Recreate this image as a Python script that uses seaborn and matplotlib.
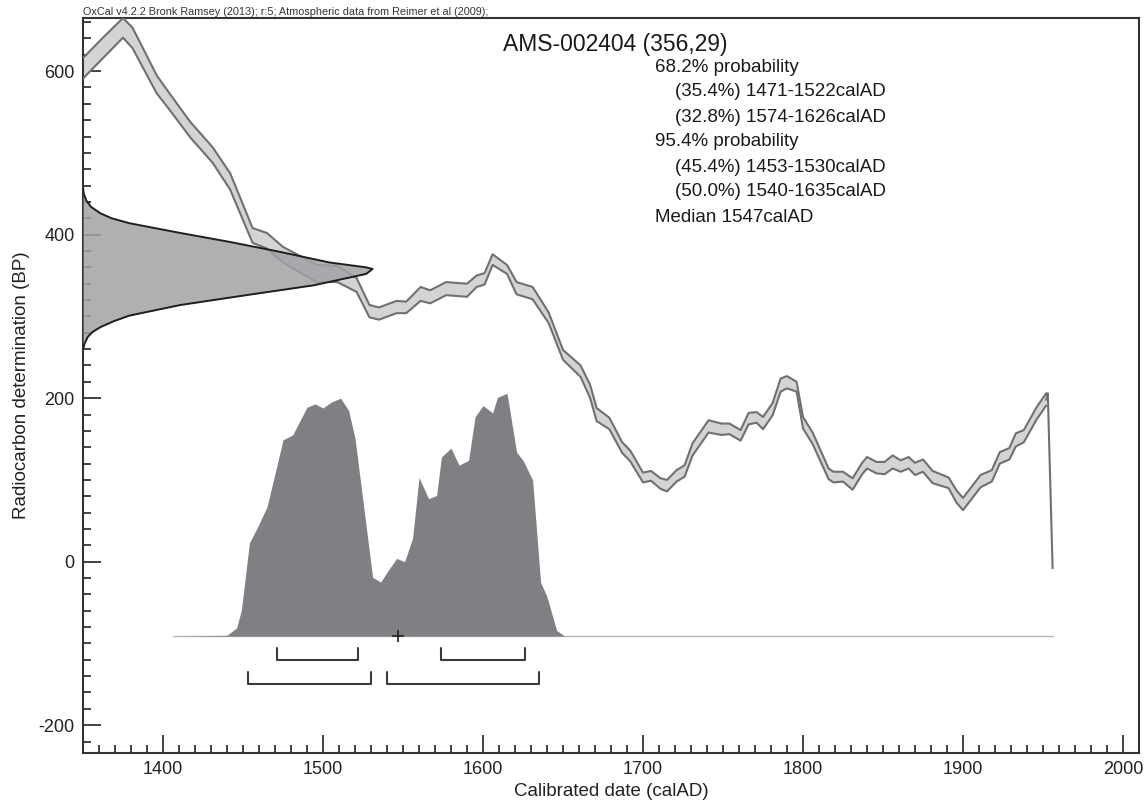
import matplotlib
matplotlib.use("Agg")
import matplotlib.pyplot as plt
import seaborn as sns

# calibration curve (IntCal09), upper / lower edge of the 1-sigma band
curve_year = [1350, 1362, 1375, 1381, 1396, 1404, 1417, 1431, 1442, 1456,
              1465, 1475, 1496, 1509, 1521, 1529, 1535, 1546, 1552, 1561,
              1567, 1577, 1590, 1596, 1601, 1606, 1615, 1621, 1631, 1641,
              1650, 1661, 1667, 1671, 1679, 1687, 1692, 1700, 1705, 1711,
              1715, 1721, 1726, 1731, 1741, 1749, 1754, 1761, 1766, 1771,
              1775, 1781, 1786, 1790, 1796, 1800, 1806, 1816, 1819, 1825,
              1831, 1837, 1840, 1846, 1851, 1856, 1861, 1866, 1870, 1875,
              1881, 1891, 1896, 1900, 1911, 1918, 1923, 1929, 1933, 1938,
              1946, 1952]
curve_hi = [616, 640, 665, 653, 595, 573, 538, 507, 475, 408,
            402, 385, 363, 362, 347, 314, 311, 319, 318, 336,
            332, 342, 340, 350, 353, 376, 363, 342, 336, 305,
            259, 240, 216, 188, 176, 146, 136, 109, 111, 102,
            100, 112, 118, 145, 173, 169, 169, 161, 182, 183,
            177, 194, 224, 227, 220, 177, 158, 114, 110, 110,
            102, 121, 128, 122, 122, 130, 124, 128, 121, 125,
            111, 103, 87, 78, 106, 112, 134, 139, 157, 161,
            189, 206]
curve_lo = [591, 615, 641, 628, 573, 553, 519, 488, 455, 390,
            383, 366, 342, 342, 330, 299, 296, 304, 304, 319,
            316, 326, 324, 336, 339, 363, 352, 327, 321, 292,
            247, 226, 200, 172, 162, 133, 123, 97, 99, 89,
            86, 98, 104, 130, 158, 155, 156, 148, 168, 170,
            162, 179, 208, 212, 208, 163, 144, 101, 97, 98,
            88, 107, 114, 108, 107, 114, 110, 114, 106, 110,
            96, 90, 72, 63, 91, 98, 120, 125, 141, 146,
            174, 191]
tail_year = [1952, 1953, 1956]
tail_bp = [198, 206, -8]

# radiocarbon date 356 +/- 29 drawn against the y axis
gauss_bp = [457, 450, 442, 434, 426, 420, 414, 402, 391, 379, 366, 360,
            358, 352, 338, 326, 314, 301, 294, 287, 281, 275, 267, 259]
gauss_x = [1350, 1350.5, 1352, 1355, 1361, 1368, 1379, 1411, 1442, 1473, 1504, 1527,
           1531, 1527, 1494, 1452, 1411, 1379, 1369, 1361, 1356, 1353, 1351, 1350]

# calibrated probability distribution
post_year = [1406, 1440, 1446, 1449, 1454, 1459, 1465, 1471, 1475, 1481,
             1490, 1495, 1500, 1505, 1511, 1516, 1520, 1531, 1536, 1541,
             1546, 1551, 1556, 1560, 1566, 1571, 1574, 1580, 1585, 1591,
             1595, 1600, 1606, 1609, 1615, 1621, 1625, 1631, 1636, 1640,
             1646, 1651]
post_top = [-91, -90, -81, -59, 23, 42, 67, 116, 149, 155,
            189, 193, 188, 195, 200, 185, 151, -19, -25, -10,
            4, 0, 29, 103, 77, 81, 128, 139, 118, 124,
            177, 191, 182, 201, 206, 134, 124, 100, -25, -43,
            -84, -91]
baseline = -91
base_span = [1406, 1956]

range68 = [(1471, 1522), (1574, 1626)]
range95 = [(1453, 1530), (1540, 1635)]
median = 1547

info_title = "AMS-002404 (356,29)"
info_lines = [("68.2% probability", 0), ("(35.4%) 1471-1522calAD", 1),
              ("(32.8%) 1574-1626calAD", 1), ("95.4% probability", 0),
              ("(45.4%) 1453-1530calAD", 1), ("(50.0%) 1540-1635calAD", 1),
              ("Median 1547calAD", 0)]

sns.set_theme(style="white")
plt.rcParams['font.family'] = ['Liberation Sans', 'DejaVu Sans']
plt.rcParams['axes.unicode_minus'] = False

W, H = 1148, 800
fig = plt.figure(figsize=(W / 100, H / 100), dpi=100)
ax = fig.add_axes([83 / W, 47 / H, (1139 - 83) / W, (753 - 18) / H])

# curve band
ax.fill_between(curve_year, curve_lo, curve_hi, color='#d4d4d6', lw=0, zorder=2)
sns.lineplot(x=curve_year, y=curve_hi, color='#707070', lw=1.5, ax=ax, zorder=3)
sns.lineplot(x=curve_year, y=curve_lo, color='#707070', lw=1.5, ax=ax, zorder=3)
ax.plot(tail_year, tail_bp, color='#707070', lw=1.5, zorder=3)

# measurement distribution
ax.fill_betweenx(gauss_bp, 1350, gauss_x, color='#a2a2a6', alpha=0.85, lw=0, zorder=4)
ax.plot(gauss_x, gauss_bp, color='#1e1e1e', lw=1.4, zorder=5)

# calibrated distribution
ax.plot(base_span, [baseline, baseline], color='#b8b8b8', lw=1, zorder=2)
ax.fill_between(post_year, baseline, post_top, color='#7f8084', lw=0, zorder=3)
ax.plot(median, baseline, marker='+', color='#222222', ms=8, mew=1.2, zorder=6)

# range brackets
for lo, hi in range68:
    ax.plot([lo, lo, hi, hi], [-106, -120, -120, -106], color='#3a3a3a', lw=1.5)
for lo, hi in range95:
    ax.plot([lo, lo, hi, hi], [-135, -149, -149, -135], color='#3a3a3a', lw=1.5)

ax.set_xlim(1350, 2010)
ax.set_ylim(-234, 665)
ax.set_xticks(range(1400, 2001, 100))
ax.set_xticks(range(1360, 2010, 10), minor=True)
ax.set_yticks([-200, 0, 200, 400, 600])
ax.set_yticks(range(-220, 661, 20), minor=True)
ax.tick_params(which='both', direction='in', color='#333333', width=1.3,
               bottom=True, left=True, top=False, right=False)
ax.tick_params(which='major', length=13, labelsize=13, labelcolor='#222222', pad=6)
ax.tick_params(which='minor', length=6)
for sp in ax.spines.values():
    sp.set_visible(True)
    sp.set_color('#333333')
    sp.set_linewidth(1.5)

ax.set_xlabel("Calibrated date (calAD)", fontsize=13.5, color='#222222', labelpad=3)
ax.set_ylabel("Radiocarbon determination (BP)", fontsize=13.5, color='#222222', labelpad=6)

fig.text(83 / W, 1 - 17 / H,
         "OxCal v4.2.2 Bronk Ramsey (2013); r:5; Atmospheric data from Reimer et al (2009);",
         fontsize=7.8, color='#333333', va='bottom', ha='left')
fig.text(615 / W, 1 - 44 / H, info_title, fontsize=16.5, color='#1a1a1a',
         ha='center', va='center')
for i, (txt, indent) in enumerate(info_lines):
    fig.text((655 + 20 * indent) / W, 1 - (67 + 25 * i) / H, txt, fontsize=13.5,
             color='#1a1a1a', ha='left', va='center')

fig.savefig("out.png", dpi=100)
